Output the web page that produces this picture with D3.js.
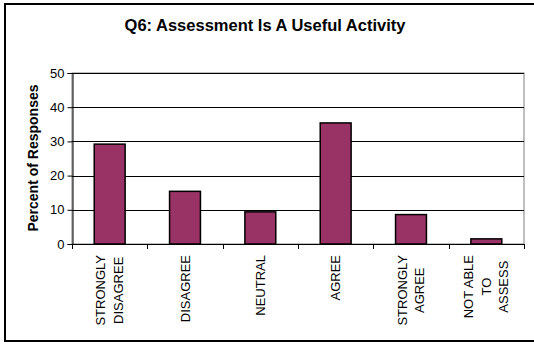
<!DOCTYPE html>
<html>
<head>
<meta charset="utf-8">
<script src="https://cdn.jsdelivr.net/npm/d3@7"></script>
<style>
  html, body { margin: 0; padding: 0; background: #fff; }
  svg { display: block; font-family: "Liberation Sans", Arial, sans-serif; }
</style>
</head>
<body>
<svg id="chart" width="534" height="345"></svg>
<script>
// Survey responses for Q6
const categories = [
  ["STRONGLY", "DISAGREE"],
  ["DISAGREE"],
  ["NEUTRAL"],
  ["AGREE"],
  ["STRONGLY", "AGREE"],
  ["NOT ABLE", "TO", "ASSESS"]
];
const percentValues = [29.2, 15.4, 9.4, 35.4, 8.6, 1.5];
const yTicks = [0, 10, 20, 30, 40, 50];
const chartTitle = "Q6: Assessment Is A Useful Activity";
const yAxisTitle = "Percent of Responses";

const svg = d3.select("#chart");
const W = 534;
const plot = { left: 72, right: 524, top: 73, bottom: 244 };

// outer frame
svg.append("rect")
  .attr("x", 5).attr("y", 4)
  .attr("width", W + 4).attr("height", 337)
  .attr("fill", "#fff").attr("stroke", "#000").attr("stroke-width", 2);

const x = d3.scaleBand()
  .domain(d3.range(categories.length))
  .range([plot.left, plot.right])
  .paddingInner(0.59).paddingOuter(0.295);

const xTick = d3.scaleLinear()
  .domain([0, categories.length])
  .range([plot.left, plot.right]);

const y = d3.scaleLinear().domain([0, 50]).range([plot.bottom, plot.top]);

// plot area border
svg.append("rect")
  .attr("x", plot.left).attr("y", plot.top)
  .attr("width", plot.right - plot.left).attr("height", plot.bottom - plot.top)
  .attr("fill", "none").attr("stroke", "#808080").attr("stroke-width", 1);

// gridlines
svg.append("g").selectAll("line")
  .data(yTicks.filter(d => d > 0))
  .join("line")
  .attr("x1", plot.left).attr("x2", plot.right)
  .attr("y1", d => Math.round(y(d)) + 0.5).attr("y2", d => Math.round(y(d)) + 0.5)
  .attr("stroke", "#000").attr("stroke-width", 1);

// bars
svg.append("g").selectAll("rect")
  .data(percentValues)
  .join("rect")
  .attr("x", (d, i) => x(i))
  .attr("y", d => y(d))
  .attr("width", x.bandwidth())
  .attr("height", d => y(0) - y(d))
  .attr("fill", "#993366")
  .attr("stroke", "#000").attr("stroke-width", 1.5);

// y axis
const yAxis = d3.axisLeft(y).tickValues(yTicks).tickSize(5).tickPadding(3);
const gy = svg.append("g")
  .attr("transform", `translate(${plot.left + 0.5},0)`)
  .call(yAxis);
gy.select(".domain").attr("stroke", "#000");
gy.selectAll(".tick line").attr("stroke", "#000");
gy.selectAll(".tick text")
  .attr("font-size", 13).attr("fill", "#000")
  .attr("font-family", "Liberation Sans, Arial, sans-serif");

// x axis line with tick marks between categories
const gx = svg.append("g");
gx.append("line")
  .attr("x1", plot.left).attr("x2", plot.right)
  .attr("y1", plot.bottom + 0.5).attr("y2", plot.bottom + 0.5)
  .attr("stroke", "#000");
gx.selectAll("line.tk")
  .data(d3.range(categories.length + 1))
  .join("line").attr("class", "tk")
  .attr("x1", d => Math.round(xTick(d)) + 0.5).attr("x2", d => Math.round(xTick(d)) + 0.5)
  .attr("y1", plot.bottom).attr("y2", plot.bottom + 5)
  .attr("stroke", "#000");

// rotated category labels; each multi-line block is centred on its longest line
const lineGap = 17.5;
const labelTop = 255;
categories.forEach((lines, i) => {
  const cx = x(i) + x.bandwidth() / 2;
  const n = lines.length;
  const g = svg.append("g");
  const texts = lines.map((t, j) => {
    const off = (j - (n - 1) / 2) * lineGap;
    return g.append("text")
      .attr("data-x", cx + off + 4.5)
      .attr("text-anchor", "middle")
      .attr("font-size", 13)
      .attr("fill", "#000")
      .text(t);
  });
  const maxW = d3.max(texts, t => t.node().getComputedTextLength());
  texts.forEach(t => {
    t.attr("transform", `translate(${t.attr("data-x")},${labelTop + maxW / 2}) rotate(-90)`);
  });
});

// y axis title
svg.append("text")
  .attr("transform", `translate(38,158) rotate(-90)`)
  .attr("text-anchor", "middle")
  .attr("font-size", 14).attr("font-weight", "bold")
  .text(yAxisTitle);

// chart title
svg.append("text")
  .attr("x", 265).attr("y", 31)
  .attr("text-anchor", "middle")
  .attr("font-size", 16.5).attr("font-weight", "bold")
  .text(chartTitle);
</script>
</body>
</html>
